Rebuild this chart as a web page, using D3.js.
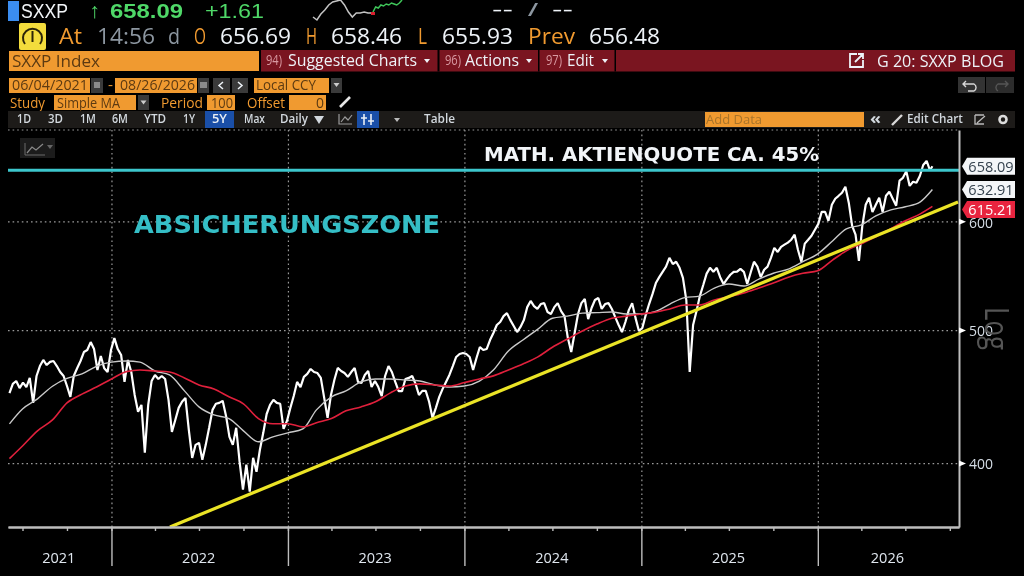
<!DOCTYPE html>
<html>
<head>
<meta charset="utf-8">
<script src="https://cdn.jsdelivr.net/npm/d3@7"></script>
<style>
html, body { margin: 0; padding: 0; background: #000; overflow: hidden; }
svg { display: block; filter: blur(0.4px); }
text { font-family: "Open Sans", sans-serif; }
</style>
</head>
<body>
<div id="container"></div>
<script>
//---------- DATA ----------//
// weekly closes (Fridays)
const price2021 = [449.8,456.8,459,453.6,457.8,454.4,461.4,442.5,462.9,470.7,
  475.5,471.5,474,474.7,470.7,466,462.9,455.2,447,462.9,
  469,474.7,481.9,483.5,490,484.3,467.6,478.7,469,466,483.5];
const price2022 = [493.3,484.3,479.5,458.3,475.5,466,448.4,435.9,441,407,
  441,459,463.7,460.6,462.9,460.6,444.7,421.5,430,438.8,
  443.3,446.2,422.9,403.5,412.4,413.8,402.2,412.4,424.4,437.3,
  441.8,442.5,444,432.9,418,412.4,424.4,400.9,382.5,398.9,
  381.2,403.5,394.2,409,420.8,434.3,441,444.7,442.5,441.8,423.6,429.3];
const price2023 = [438.8,447.6,458.3,454.4,462.2,464.5,468.4,466,465.2,461.4,
  446.2,431.5,448.4,459.8,469.2,466.8,465.2,462.2,466,469.2,
  458.3,457.5,463.7,466.8,454.4,459,454.4,447.6,462.9,470.7,
  466,458.3,451.3,451.3,460.6,461.4,462.9,456.8,448.4,451.5,
  451.5,443.3,431.5,438.8,447,453,458.3,463.7,470.7,477.9,480.3,481.1];
const price2024 = [480.3,477.9,467.6,477.1,486,483.5,484.3,491.7,497.5,504.2,
  506.8,511.8,514.4,508.4,503.4,498.3,502.6,508.4,519.6,525,
  520.5,518,522.3,523.1,515.3,513.6,519.6,523.1,516.1,511.8,
  493.3,481.9,497.5,513.6,523.1,526.7,509.3,518.8,525.8,527.6,
  518,522.3,523.1,518,511,504.2,498.3,506.8,517,523.1,510.1,499.2];
const price2025 = [501.7,512.7,522.3,531,541,546.4,551.3,556.1,564.4,558.5,
  560.7,555,545.7,525.8,466,504.2,516.1,529.3,539.2,549.6,
  555,551.4,555,546.4,540.1,544.6,548.6,551.3,551.4,554,
  551.3,540.1,550.5,560.7,556.1,546.4,553.2,556.1,564.4,573.9,
  570,574.9,577,579,581.8,586.7,571.8,560.7,578,581.8,585.7,591.6];
const price2026 = [597.5,609.6,609.6,600.6,617,623.2,626.3,629.5,635.9,619.1,
  595.5,586.7,561.6,595.5,617,624.3,609.6,617,624.3,609.6,
  626.3,630.5,623.2,616,642.5,645.5,652.6,636.8,641.2,640.1,
  647.5,659.5,664,653.7,658.09];

// moving averages, one reading per month
const maShort = [427.2,438,445.5,455,461,464.5,470.5,473.8,474.7,473.8,
  466.8,463.7,451.5,439.5,433.6,431,422.2,414.5,418,420.8,
  423.6,437.3,447,451.5,458.3,460.6,460.6,459.8,459,456,
  454.4,455.2,459,467.6,482.7,491.7,500.8,510,511.8,514.4,
  514.8,515.3,513.6,513.6,516.1,522.3,528,529.3,536.5,540.1,
  538.3,544.6,550,553.8,560.7,568.2,580.8,592.6,596.5,605.6,
  611.7,614.9,620,632.91];
const maLong = [403,411.6,422.2,430,442.5,449,454.4,460.6,466.3,467.6,
  466.8,466,461.4,456,452.9,447,441.8,431,427.3,427.3,
  425,428,431,436.6,439.5,443.3,450,455.2,456.8,456,
  455.2,457.8,460.6,463,467.6,472.3,478,485.8,492.5,499.2,
  505,510,511.8,513.6,515.3,518,521.4,521.4,525.8,528.6,
  532,536.5,541,546.4,550,552.3,562.5,571,577.9,584.8,
  592.6,600.6,607.6,615.21];

const trendDates = [new Date(2022, 4, 2), new Date(2026, 9, 18)];
const trendValues = [359.3, 619.8];
const hedgeLevel = 653.6;

const yTicks = [400, 500, 600];
const gridValues = [400, 500, 600, 700];
const yearLabels = ["2021", "2022", "2023", "2024", "2025", "2026"];
const lastValues = [658.09, 632.91, 615.21];

// header sparkline levels
const sparkGrey = [5,2,8,12,17,20,21,22,17,10,5,9,9,10,9,9];
const sparkGreen = [10,15,14,17,16,18,17,19,18,17,19,22];

//---------- SVG ----------//
const width = 1024, height = 576;
const plotLeft = 8, plotRight = 959, plotTop = 130, plotBottom = 527;
const ORANGE = "#f09a30", DARK = "#5c3a12", RED = "#7a1520", CYAN = "#3cc6cc";

const svg = d3.select("#container").append("svg")
  .attr("width", width).attr("height", height)
  .style("background", "#000");

//---------- SCALES ----------//
const x = d3.scaleTime()
  .domain([new Date(2021, 5, 1), new Date(2026, 9, 20)])
  .range([plotLeft, plotRight]);
const y = d3.scaleLog().domain([359.3, 699.4]).range([plotBottom, plotTop]);

const lastDate = new Date(2026, 7, 26);
const priceDates = d3.timeFriday.range(new Date(2021, 5, 4), new Date(2026, 7, 22)).concat([lastDate]);
const maDates = [new Date(2021, 5, 4)]
  .concat(d3.timeMonth.range(new Date(2021, 6, 1), new Date(2026, 8, 1)))
  .concat([lastDate]);
const priceValues = [].concat(price2021, price2022, price2023, price2024, price2025, price2026);

const line = d3.line().x(d => x(d[0])).y(d => y(d[1]));
const smoothLine = d3.line().x(d => x(d[0])).y(d => y(d[1])).curve(d3.curveMonotoneX);

//---------- GRID ----------//
const years = d3.timeYear.range(new Date(2022, 0, 1), new Date(2027, 0, 1));
const quarters = d3.timeMonth.range(new Date(2021, 6, 1), new Date(2026, 9, 2), 3);

svg.append("g").attr("class", "grid")
  .attr("transform", `translate(${plotLeft},0)`)
  .call(d3.axisRight(y).tickValues(gridValues).tickSize(plotRight - plotLeft).tickFormat(""))
  .call(g => g.select(".domain").remove());
svg.append("g").attr("class", "grid")
  .attr("transform", `translate(0,${plotTop})`)
  .call(d3.axisBottom(x).tickValues(years).tickSize(plotBottom - plotTop).tickFormat(""))
  .call(g => g.select(".domain").remove());
svg.selectAll(".grid line")
  .attr("stroke", "#9a9a9a").attr("stroke-width", 1.2).attr("stroke-dasharray", "1.6,3");

//---------- SERIES ----------//
svg.append("path").attr("d", line(d3.zip(priceDates, priceValues)))
  .attr("fill", "none").attr("stroke", "#fff").attr("stroke-width", 2.2).attr("stroke-linejoin", "bevel");
svg.append("path").attr("d", smoothLine(d3.zip(maDates, maShort)))
  .attr("fill", "none").attr("stroke", "#c9c9c9").attr("stroke-width", 1.4);
svg.append("path").attr("d", smoothLine(d3.zip(maDates, maLong)))
  .attr("fill", "none").attr("stroke", "#e0203c").attr("stroke-width", 1.6);
svg.append("path").attr("d", line(d3.zip(trendDates, trendValues)))
  .attr("fill", "none").attr("stroke", "#ebe426").attr("stroke-width", 3.2);
svg.append("line")
  .attr("x1", plotLeft).attr("x2", plotRight)
  .attr("y1", y(hedgeLevel)).attr("y2", y(hedgeLevel))
  .attr("stroke", CYAN).attr("stroke-width", 3);

//---------- AXES ----------//
const axisColor = "#bdbdbd";
svg.append("g").attr("class", "axis")
  .attr("transform", `translate(0,${plotBottom})`)
  .call(d3.axisBottom(x).tickValues(quarters).tickSize(4).tickSizeOuter(0).tickFormat(""));
svg.append("g").attr("class", "axis")
  .attr("transform", `translate(0,${plotBottom})`)
  .call(d3.axisBottom(x).tickValues(years).tickSize(39).tickSizeOuter(0).tickFormat(""));
svg.append("g").attr("class", "axis")
  .attr("transform", `translate(${plotRight},0)`)
  .call(d3.axisRight(y).tickValues(yTicks).tickSize(0).tickSizeOuter(0).tickPadding(10).tickFormat(d3.format("d")))
  .call(g => g.selectAll(".tick").append("path").attr("d", "M0,-3L7,0L0,3Z").attr("fill", "#fff"))
  .call(g => g.selectAll("text").attr("fill", "#d5dde6").attr("dy", "0.42em")
    .style("font-size", "14px").style("font-family", "'Open Sans'"));
svg.selectAll(".axis .domain").attr("stroke", axisColor).attr("stroke-width", 2);
svg.selectAll(".axis line").attr("stroke", axisColor).attr("stroke-width", 1.4);

// year names sit in the middle of the visible part of each year
const yearEdges = [x.domain()[0]].concat(years.slice(0, 5), [x.domain()[1]]);
svg.append("g").selectAll("text").data(yearLabels).join("text")
  .attr("x", (d, i) => (x(yearEdges[i]) + x(yearEdges[i + 1])) / 2 - 1)
  .attr("y", 559)
  .attr("dominant-baseline", "middle").attr("text-anchor", "middle")
  .attr("fill", "#dfe6ee").style("font-size", "14.5px")
  .text(d => d);

svg.append("text")
  .attr("transform", "translate(985,307) rotate(90)")
  .attr("textLength", 43).attr("lengthAdjust", "spacingAndGlyphs")
  .attr("fill", "#555").style("font-size", "33px").text("Log");

//---------- LAST VALUE TAGS ----------//
const tagShift = [0, 0, 3];
const tagFill = ["#f4f6f8", "#f4f6f8", "#e8243f"];
const tagText = ["#35424e", "#35424e", "#fff"];
const tags = svg.append("g").selectAll("g").data(lastValues).join("g")
  .attr("transform", (d, i) => `translate(962,${y(d) + tagShift[i]})`);
tags.append("path")
  .attr("d", "M0,0L5,-8.5H53V8.5H5Z")
  .attr("fill", (d, i) => tagFill[i]);
tags.append("text")
  .attr("x", 29).attr("y", 1.5).attr("dominant-baseline", "middle").attr("text-anchor", "middle")
  .attr("fill", (d, i) => tagText[i]).style("font-size", "14.5px")
  .text(d => d3.format(".2f")(d));

//---------- TEXT HELPERS ----------//
function label(x0, x1, yc, str, color, size, weight) {
  return svg.append("text")
    .attr("x", x0).attr("y", yc + size * 0.08)
    .attr("dominant-baseline", "middle")
    .attr("textLength", x1 - x0).attr("lengthAdjust", "spacingAndGlyphs")
    .attr("fill", color)
    .style("font-size", size + "px")
    .style("font-weight", weight || 400)
    .text(str);
}
function box(x0, x1, y0, y1, color) {
  return svg.append("rect").attr("x", x0).attr("y", y0)
    .attr("width", x1 - x0).attr("height", y1 - y0).attr("fill", color);
}
function icon(d, color, w) {
  return svg.append("path").attr("d", d).attr("fill", "none")
    .attr("stroke", color).attr("stroke-width", w || 1.5);
}
function arrowDown(cx, cy, color) {
  return svg.append("path").attr("d", `M${cx - 3},${cy - 2}H${cx + 3}L${cx},${cy + 2}Z`).attr("fill", color);
}

//---------- ANNOTATIONS ----------//
label(484, 819, 154, "MATH. AKTIENQUOTE CA. 45%", "#f2f5f8", 19, 700).style("font-family", "'DejaVu Sans'");
label(134, 440, 224, "ABSICHERUNGSZONE", "#35bec6", 24, 700).style("font-family", "'DejaVu Sans'");

box(20, 55, 138, 158, "#1c1c1c");
icon("M27,153L32,147L36,150L43,144", "#8a8a8a", 1.2);
icon("M25,143V155H45", "#6a6a6a", 1);
arrowDown(50, 147, "#666");

//---------- HEADER ----------//
const WHITE = "#eef3f8", GREEN = "#4fd868", GREY = "#8d97a1";
const TOP_FONT = "'Liberation Sans'";
box(8, 19, 1, 21, "#3b8df0");
label(21, 68, 11, "SXXP", "#f2f5f8", 21).style("font-family", TOP_FONT);
label(89, 100, 11, "↑", GREEN, 21).style("font-family", TOP_FONT);
label(110, 183, 11, "658.09", GREEN, 21, 700).style("font-family", TOP_FONT);
label(205, 264, 11, "+1.61", GREEN, 21).style("font-family", TOP_FONT);

// sparkline
const sparkX = d3.scaleLinear().domain([0, sparkGrey.length - 1]).range([313, 372]);
const sparkX2 = d3.scaleLinear().domain([0, sparkGreen.length - 1]).range([373, 402]);
const sparkY = d3.scaleLinear().domain([0, 22]).range([22, 0]);
svg.append("path").attr("fill", "none").attr("stroke", "#c4c4c4").attr("stroke-width", 1.5)
  .attr("d", d3.line().x((d, i) => sparkX(i)).y(d => sparkY(d))(sparkGrey));
svg.append("path").attr("fill", "none").attr("stroke", "#3fc65a").attr("stroke-width", 1.5)
  .attr("d", d3.line().x((d, i) => sparkX2(i)).y(d => sparkY(d))(sparkGreen));
box(371, 375, 12, 15, "#d8202f");

label(492, 513, 10, "--", WHITE, 18).style("font-family", TOP_FONT);
label(528, 538, 10, "/", GREY, 18).style("font-family", TOP_FONT);
label(552, 573, 10, "--", WHITE, 18).style("font-family", TOP_FONT);

// gauge
svg.append("rect").attr("x", 19).attr("y", 23).attr("width", 27).attr("height", 27).attr("rx", 2).attr("fill", "#f3dc3c");
icon("M25,44A9.5,9.5 0 1 1 40,44", "#2a2408", 2);
icon("M32.5,31V42", "#2a2408", 2);

label(59, 82, 37, "At", ORANGE, 21);
label(97, 155, 37, "14:56", GREY, 21);
label(168, 180, 37, "d", GREY, 21);
label(194, 206, 37, "O", ORANGE, 21);
label(220, 291, 37, "656.69", WHITE, 21);
label(306, 317, 37, "H", ORANGE, 21);
label(331, 402, 37, "658.46", WHITE, 21);
label(418, 427, 37, "L", ORANGE, 21);
label(442, 513, 37, "655.93", WHITE, 21);
label(528, 575, 37, "Prev", ORANGE, 21);
label(589, 660, 37, "656.48", WHITE, 21);

// red command bar
box(261, 1015, 50, 71.5, RED);
box(9, 259, 51, 71, ORANGE);
label(12, 100, 61, "SXXP Index", DARK, 16);
label(266, 282, 60.5, "94)", "#d99aa2", 14);
label(288, 417, 60.5, "Suggested Charts", WHITE, 16);
arrowDown(427, 61, WHITE);
box(437.5, 439.5, 50, 71.5, "#000");
label(445, 461, 60.5, "96)", "#d99aa2", 14);
label(465, 519, 60.5, "Actions", WHITE, 16);
arrowDown(529, 61, WHITE);
box(538, 539.5, 50, 71.5, "#000");
label(546, 562, 60.5, "97)", "#d99aa2", 14);
label(567, 594, 60.5, "Edit", WHITE, 16);
arrowDown(605, 61, WHITE);
box(614.5, 616, 50, 71.5, "#000");
icon("M857,54H850V67H863V60M855,62L863,54M858,54H863V59", WHITE, 1.8);
label(877, 1004, 61, "G 20: SXXP BLOG", WHITE, 16);

// date row
box(9, 90, 78, 93, ORANGE);
label(12, 88, 85.5, "06/04/2021", DARK, 14);
box(91, 103, 78, 93, "#3a3a3a");
box(94, 100, 82, 88, "#8a8a8a");
label(108, 113, 85, "-", ORANGE, 14);
box(115, 197, 78, 93, ORANGE);
label(120, 195, 85.5, "08/26/2026", DARK, 14);
box(198, 209, 78, 93, "#3a3a3a");
box(200, 207, 82, 88, "#8a8a8a");
box(213, 230, 78, 93, "#3a3a3a");
icon("M223,82L219,85.5L223,89", WHITE, 1.5);
box(232, 248, 78, 93, "#3a3a3a");
icon("M238,82L242,85.5L238,89", WHITE, 1.5);
box(254, 329, 78, 93, ORANGE);
label(256, 316, 85.5, "Local CCY", DARK, 14);
box(331, 342, 78, 93, "#3a3a3a");
arrowDown(336.5, 85, "#ccc");
box(958, 985, 77, 93, "#333");
icon("M966,81L963,84L966,87M963,84H974A4,4 0 0 1 974,91H968", "#d8d8d8", 1.4);
box(986, 1014, 77, 93, "#2c2c2c");
icon("M1005,81L1008,84L1005,87M1008,84H998A4,4 0 0 0 998,91", "#555", 1.4);

// study row
label(10, 45, 103, "Study", ORANGE, 14);
box(54, 136, 95, 110, ORANGE);
label(57, 120, 103, "Simple MA", DARK, 14);
box(138, 149, 95, 110, "#3a3a3a");
arrowDown(143.5, 102.5, "#ccc");
label(161, 203, 103, "Period", ORANGE, 14);
box(207, 235, 95, 110, ORANGE);
label(211, 233, 103, "100", DARK, 14);
label(247, 285, 103, "Offset", ORANGE, 14);
box(289, 326, 95, 110, ORANGE);
label(316, 324, 103, "0", DARK, 14);
icon("M340,107L350,97", "#e8e8e8", 2.6);

// range toolbar
box(8, 1015, 111, 128, "#1d1b19");
box(205, 234, 111, 128, "#1a4fa8");
box(357, 379, 111, 128, "#1a4fa8");
const tb = "#d2d8de";
label(17, 31, 119, "1D", tb, 12.5, 600);
label(48, 63, 119, "3D", tb, 12.5, 600);
label(80, 96, 119, "1M", tb, 12.5, 600);
label(112, 128, 119, "6M", tb, 12.5, 600);
label(144, 166, 119, "YTD", tb, 12.5, 600);
label(183, 195, 119, "1Y", tb, 12.5, 600);
label(212, 227, 119, "5Y", "#e8eef5", 12.5, 600);
label(244, 265, 119, "Max", tb, 12.5, 600);
label(280, 308, 119, "Daily", tb, 12.5, 600);
svg.append("path").attr("d", "M314,116H324L319,124Z").attr("fill", tb);
icon("M339,114V124H352M341,122L345,117L348,120L352,115", "#9a9a9a", 1.2);
icon("M364,114V125M371,114V125M361,118H367M368,121H374", "#e8eef5", 1.6);
arrowDown(397, 120, "#bbb");
label(424, 455, 119, "Table", tb, 12.5, 600);
box(705, 864, 112, 127, ORANGE);
label(706, 762, 119.5, "Add Data", "#a8742a", 13.5);
label(870, 881, 118, "«", tb, 16, 700);
icon("M892,125L902,115", "#d8d8d8", 2.4);
label(907, 963, 119, "Edit Chart", tb, 12.5, 600);
icon("M975,115H984M975,115V124H984M977,123L985,116", "#bbb", 1.3);
svg.append("circle").attr("cx", 1003).attr("cy", 119.5).attr("r", 3.5)
  .attr("fill", "none").attr("stroke", "#ddd").attr("stroke-width", 2.6);
</script>
</body>
</html>
